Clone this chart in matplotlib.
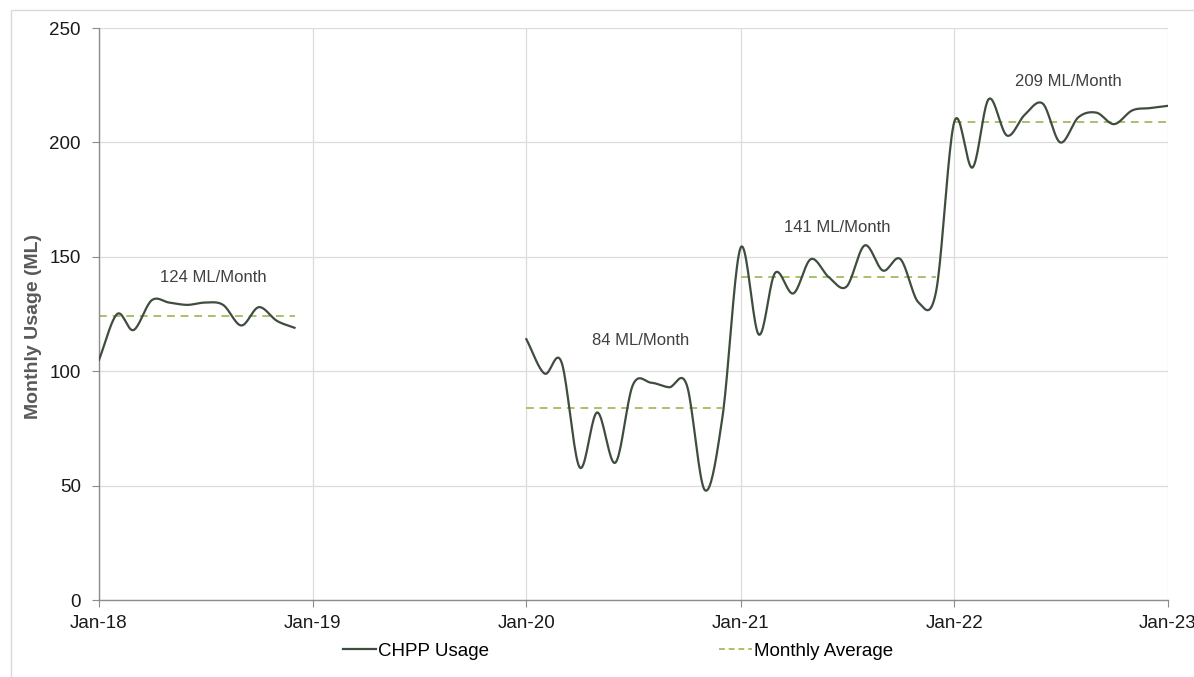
import matplotlib
matplotlib.use("Agg")

import matplotlib.dates as mdates
import matplotlib.pyplot as plt
import numpy as np
import pandas as pd
from matplotlib.lines import Line2D
from matplotlib.patches import Rectangle

plt.rcParams["font.family"] = ["Liberation Sans", "DejaVu Sans"]

# monthly CHPP usage (ML)
months_2018 = pd.date_range("2018-01-01", periods=12, freq="MS")
usage_2018 = [105, 125, 118, 131, 130, 129, 130, 129, 120, 128, 122, 119]

months_2020 = pd.date_range("2020-01-01", periods=37, freq="MS")
usage_2020 = [
    114, 99, 104, 58, 82, 60, 94, 95, 93, 94, 48, 80,          # 2020
    154, 116, 143, 134, 149, 141, 137, 155, 144, 149, 130, 135,  # 2021
    209, 189, 219, 203, 212, 217, 200, 211, 213, 208, 214, 215,  # 2022
    216,
]

# yearly averages and where their dashed lines run
avg_values = [124, 84, 141, 209]
avg_start = ["2018-01-01", "2020-01-01", "2021-01-01", "2022-01-01"]
avg_end = ["2018-12-01", "2020-12-01", "2021-12-01", "2023-01-01"]
avg_text_x = ["2018-07-15", "2020-07-15", "2021-06-15", "2022-07-15"]
avg_text_y = [141, 113.5, 163, 226.5]

LINE_COLOR = "#3f4d3f"
AVG_COLOR = "#a8c06a"
GRID_COLOR = "#dcdcdc"
AXIS_COLOR = "#8c8c8c"


def smooth(dates, values, steps=20):
    # Excel-style smoothed line (Catmull-Rom through the monthly points)
    x = mdates.date2num(pd.DatetimeIndex(dates).to_pydatetime())
    y = np.asarray(values, dtype=float)
    px = np.concatenate([[2 * x[0] - x[1]], x, [2 * x[-1] - x[-2]]])
    py = np.concatenate([[2 * y[0] - y[1]], y, [2 * y[-1] - y[-2]]])
    xs, ys = [], []
    t = np.linspace(0, 1, steps, endpoint=False)
    for i in range(1, len(px) - 2):
        for p, out in ((px, xs), (py, ys)):
            p0, p1, p2, p3 = p[i - 1], p[i], p[i + 1], p[i + 2]
            out.extend(
                0.5 * ((2 * p1) + (-p0 + p2) * t
                       + (2 * p0 - 5 * p1 + 4 * p2 - p3) * t ** 2
                       + (-p0 + 3 * p1 - 3 * p2 + p3) * t ** 3)
            )
    xs.append(x[-1])
    ys.append(y[-1])
    return np.array(xs), np.array(ys)


fig = plt.figure(figsize=(11.94, 6.77), dpi=100)
ax = fig.add_axes([0.0829, 0.1137, 0.8953, 0.8449])

fig.patches.append(Rectangle((0.009, -0.02), 1.2, 1.005, transform=fig.transFigure,
                             fill=False, edgecolor="#d9d9d9", lw=1.0, zorder=0))

for dates, vals in ((months_2018, usage_2018), (months_2020, usage_2020)):
    sx, sy = smooth(dates, vals)
    ax.plot(sx, sy, color=LINE_COLOR, lw=1.6, zorder=3)

for v, s, e, tx, ty in zip(avg_values, avg_start, avg_end, avg_text_x, avg_text_y):
    ax.hlines(v, pd.Timestamp(s), pd.Timestamp(e), colors=AVG_COLOR, linestyles=(0, (4, 3)),
              lw=1.4, zorder=2)
    ax.text(pd.Timestamp(tx), ty, f"{v} ML/Month", ha="center", va="center",
            fontsize=12, color="#404040")

ax.set_xlim(pd.Timestamp("2018-01-01"), pd.Timestamp("2023-01-01"))
ax.set_ylim(0, 250)
ax.set_yticks(range(0, 251, 50))
ax.xaxis.set_major_locator(mdates.YearLocator())
ax.xaxis.set_major_formatter(mdates.DateFormatter("%b-%y"))

ax.grid(True, color=GRID_COLOR, lw=0.9)
ax.set_axisbelow(True)
for side in ("top", "right"):
    ax.spines[side].set_visible(False)
for side in ("left", "bottom"):
    ax.spines[side].set_color(AXIS_COLOR)
    ax.spines[side].set_linewidth(1.0)
ax.tick_params(axis="both", colors=AXIS_COLOR, labelcolor="#1a1a1a", labelsize=13.5,
               length=5, width=0.8)
ax.tick_params(axis="x", pad=6)
ax.tick_params(axis="y", pad=8)
for lbl in ax.get_xticklabels():
    lbl.set_clip_on(False)

ax.set_ylabel("Monthly Usage (ML)", fontsize=14, fontweight="bold", color="#595959")
ax.yaxis.set_label_coords(-0.0535, 0.478)

handles = [
    Line2D([], [], color=LINE_COLOR, lw=1.6),
    Line2D([], [], color=AVG_COLOR, lw=1.4, ls=(0, (3, 2))),
]
fig.legend(handles, ["CHPP Usage", "Monthly Average"], loc="center",
           bbox_to_anchor=(0.5176, 0.0384), ncols=2, frameon=False, fontsize=13.5,
           handlelength=1.75, handletextpad=0.1, columnspacing=12.3)

fig.savefig("out.png", dpi=100)
